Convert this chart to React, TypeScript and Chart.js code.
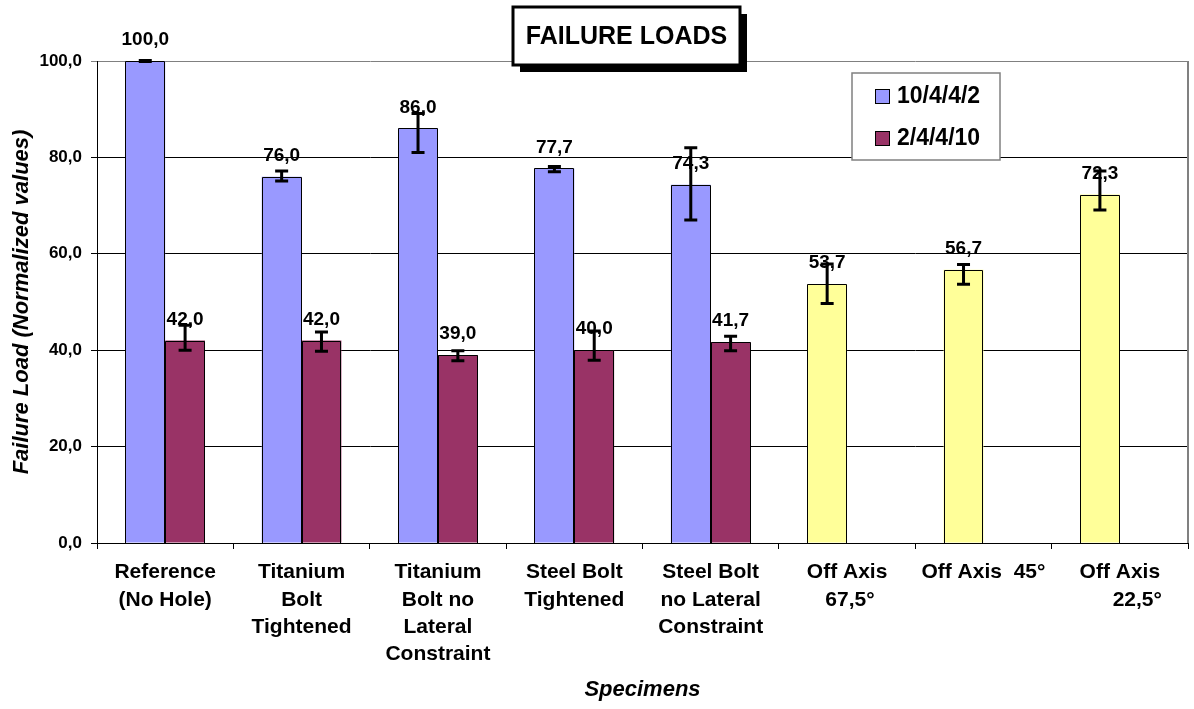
import { useEffect, useRef } from 'react';
import { Chart, registerables } from 'chart.js';

Chart.register(...registerables);

const categories: (string | string[])[] = [
  ['Reference', '(No Hole)'],
  ['Titanium', 'Bolt', 'Tightened'],
  ['Titanium', 'Bolt no', 'Lateral', 'Constraint'],
  ['Steel Bolt', 'Tightened'],
  ['Steel Bolt', 'no Lateral', 'Constraint'],
  ['Off Axis', ' 67,5°'],
  ['Off Axis  45°'],
  ['Off Axis', '      22,5°'],
];

const series1Name = '10/4/4/2';
const series2Name = '2/4/4/10';

const series1 = [100.0, 76.0, 86.0, 77.7, 74.3, 53.7, 56.7, 72.3];
const series2: (number | null)[] = [42.0, 42.0, 39.0, 40.0, 41.7, null, null, null];

const series1Low = [99.9, 75.1, 81.0, 77.0, 67.0, 49.7, 53.7, 69.1];
const series1High = [100.1, 77.2, 89.1, 78.1, 82.0, 57.9, 57.8, 77.2];
const series2Low = [40.0, 39.8, 37.8, 37.9, 39.9];
const series2High = [45.2, 43.8, 39.9, 44.0, 42.9];

const yTicks = [0, 20, 40, 60, 80, 100];

const BLUE = '#9999FF';
const RED = '#993366';
const YELLOW = '#FFFF99';
const series1Colors = [BLUE, BLUE, BLUE, BLUE, BLUE, YELLOW, YELLOW, YELLOW];

const FONT = '"Liberation Sans", Arial, sans-serif';
const fmt = (v: number) => v.toFixed(1).replace('.', ',');

const overlayPlugin = {
  id: 'overlay',
  afterDatasetsDraw(chart: any) {
    const ctx = chart.ctx;
    const yScale = chart.scales.y;
    const lows = [series1Low, series2Low];
    const highs = [series1High, series2High];
    ctx.save();
    chart.data.datasets.forEach((ds: any, i: number) => {
      const meta = chart.getDatasetMeta(i);
      meta.data.forEach((bar: any, j: number) => {
        const v = ds.data[j];
        if (v === null || v === undefined) return;
        // outline (crisp)
        const w = bar.width;
        const x0 = Math.round(bar.x - w / 2) + 0.5;
        const x1 = Math.round(bar.x + w / 2) - 0.5;
        const yt = Math.round(bar.y) + 0.5;
        const yb = Math.round(bar.base);
        ctx.strokeStyle = '#000';
        ctx.lineWidth = 1;
        ctx.beginPath();
        ctx.moveTo(x0, yb);
        ctx.lineTo(x0, yt);
        ctx.lineTo(x1, yt);
        ctx.lineTo(x1, yb);
        ctx.stroke();
        // label
        ctx.fillStyle = '#000';
        ctx.font = `bold 19px ${FONT}`;
        ctx.textAlign = 'center';
        ctx.textBaseline = 'middle';
        ctx.fillText(fmt(v), bar.x, bar.y - 21);
        // error bar
        const lo = lows[i][j];
        const hi = highs[i][j];
        if (lo === undefined || hi === undefined) return;
        const yl = yScale.getPixelForValue(lo);
        const yh = yScale.getPixelForValue(hi);
        ctx.strokeStyle = '#000';
        ctx.lineWidth = 3;
        ctx.beginPath();
        ctx.moveTo(bar.x, yh);
        ctx.lineTo(bar.x, yl);
        ctx.moveTo(bar.x - 6.5, yh);
        ctx.lineTo(bar.x + 6.5, yh);
        ctx.moveTo(bar.x - 6.5, yl);
        ctx.lineTo(bar.x + 6.5, yl);
        ctx.stroke();
      });
    });
    ctx.restore();
  },
  afterDraw(chart: any) {
    const ctx = chart.ctx;
    const a = chart.chartArea;
    ctx.save();
    // right border
    ctx.strokeStyle = '#808080';
    ctx.lineWidth = 2;
    ctx.beginPath();
    ctx.moveTo(a.right, a.top);
    ctx.lineTo(a.right, a.bottom);
    ctx.stroke();

    // title box
    const tx = 513, ty = 7, tw = 227, th = 58;
    ctx.fillStyle = '#000';
    ctx.fillRect(tx + 7, ty + 7, tw, th);
    ctx.fillStyle = '#fff';
    ctx.fillRect(tx, ty, tw, th);
    ctx.strokeStyle = '#000';
    ctx.lineWidth = 3;
    ctx.strokeRect(tx, ty, tw, th);
    ctx.fillStyle = '#000';
    ctx.font = `bold 25px ${FONT}`;
    ctx.textAlign = 'center';
    ctx.textBaseline = 'middle';
    ctx.fillText('FAILURE LOADS', tx + tw / 2, ty + th / 2 + 1);

    // legend
    const lx = 852, ly = 73, lw = 148, lh = 87;
    ctx.fillStyle = '#fff';
    ctx.fillRect(lx, ly, lw, lh);
    ctx.strokeStyle = '#808080';
    ctx.lineWidth = 1.5;
    ctx.strokeRect(lx, ly, lw, lh);
    const items = [
      { name: series1Name, color: BLUE, y: 96 },
      { name: series2Name, color: RED, y: 138 },
    ];
    items.forEach((it) => {
      ctx.fillStyle = it.color;
      ctx.fillRect(875, it.y - 7, 14, 14);
      ctx.strokeStyle = '#000';
      ctx.lineWidth = 1;
      ctx.strokeRect(875.5, it.y - 6.5, 14, 14);
      ctx.fillStyle = '#000';
      ctx.font = `bold 23px ${FONT}`;
      ctx.textAlign = 'left';
      ctx.textBaseline = 'middle';
      ctx.fillText(it.name, 897, it.y + 1);
    });

    // axis titles
    ctx.fillStyle = '#000';
    ctx.font = `italic bold 22px ${FONT}`;
    ctx.textAlign = 'center';
    ctx.textBaseline = 'middle';
    ctx.fillText('Specimens', (a.left + a.right) / 2, 690);
    ctx.save();
    ctx.translate(22, (a.top + a.bottom) / 2);
    ctx.rotate(-Math.PI / 2);
    ctx.fillText('Failure Load (Normalized values)', 0, 0);
    ctx.restore();

    ctx.restore();
  },
};

export default function App() {
  const ref = useRef<HTMLCanvasElement | null>(null);
  useEffect(() => {
    if (!ref.current) return;
    const chart = new Chart(ref.current, {
      type: 'bar',
      data: {
        labels: categories as any,
        datasets: [
          {
            label: series1Name,
            data: series1,
            backgroundColor: series1Colors,
            borderWidth: 0,
            categoryPercentage: 0.584,
            barPercentage: 1,
          },
          {
            label: series2Name,
            data: series2 as any,
            backgroundColor: RED,
            borderWidth: 0,
            categoryPercentage: 0.584,
            barPercentage: 1,
          },
        ],
      },
      options: {
        responsive: false,
        animation: false,
        layout: { padding: { left: 0, top: 61, right: 6, bottom: 0 } },
        plugins: {
          legend: { display: false },
          title: { display: false },
          tooltip: { enabled: false },
        },
        scales: {
          x: {
            grid: {
              display: true,
              drawOnChartArea: false,
              drawTicks: true,
              tickLength: 6,
              color: '#000',
              offset: true,
            },
            border: { display: true, color: '#000', width: 1 },
            ticks: {
              color: '#000',
              font: { family: FONT, size: 21, weight: 'bold', lineHeight: 1.3 },
              padding: 10,
              maxRotation: 0,
              minRotation: 0,
              autoSkip: false,
            },
            afterFit(scale: any) {
              scale.height = 166;
            },
          },
          y: {
            min: 0,
            max: 100,
            afterBuildTicks(scale: any) {
              scale.ticks = yTicks.map((v) => ({ value: v }));
            },
            grid: {
              color: (c: any) => (c.tick && c.tick.value === 100 ? '#808080' : '#000'),
              lineWidth: 1,
              tickLength: 6,
            },
            border: { display: true, color: '#000', width: 1 },
            ticks: {
              color: '#000',
              font: { family: FONT, size: 17, weight: 'bold' },
              padding: 9,
              callback: (v: any) => fmt(Number(v)),
            },
            afterFit(scale: any) {
              scale.width = 97;
            },
          },
        },
      },
      plugins: [overlayPlugin],
    });
    return () => chart.destroy();
  }, []);
  return (
    <div style={{ position: 'fixed', left: 0, top: 0, width: 1194, height: 709, background: '#fff' }}>
      <canvas ref={ref} width={1194} height={709} />
    </div>
  );
}
